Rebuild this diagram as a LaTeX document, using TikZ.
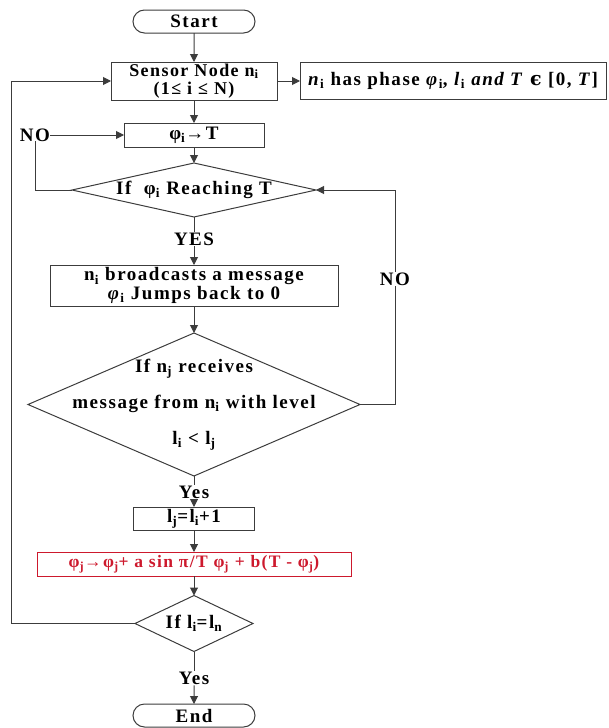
\documentclass[tikz,border=0pt]{standalone}
\usepackage{fontspec}
\setmainfont{Liberation Serif}[LetterSpace=8]
\newfontfamily\symfont{DejaVu Serif}[LetterSpace=8]
\usepackage{tikz}
\usetikzlibrary{arrows.meta,shapes.geometric,shapes.misc}
\definecolor{eqred}{RGB}{205,25,45}
\definecolor{edge}{RGB}{60,60,60}
\tikzset{
  every node/.style = {outer sep=0, inner sep=0, font=\bfseries\fontsize{19}{17}\selectfont},
  arrow/.style = {-{Triangle[length=8pt, width=8pt]}, line width=1pt, draw=edge},
  line/.style = {line width=1pt, draw=edge},
  block/.style = {rectangle, draw=edge, line width=1pt, align=center},
  decision/.style = {diamond, draw=edge, line width=1pt, inner sep=-6pt},
  term/.style = {rounded rectangle, draw=edge, line width=1pt, minimum width=122pt, minimum height=23pt},
  answer/.style = {fill=white, inner sep=1pt}
}

\begin{document}
\begin{tikzpicture}[x=1pt, y=-1pt]
    \useasboundingbox (0,0) rectangle (608,728);
    \node[term] (start) at (194,21.5) {Start};
    \node[block, minimum width=166pt, minimum height=38pt, font=\bfseries\fontsize{18}{18.5}\selectfont] (sensor) at (194,81) {Sensor Node n\textsubscript{i}\\(1≤ i ≤ N)};
    \node[block, minimum width=306pt, minimum height=37pt] (info) at (453,81) {\textit{n}\textsubscript{i} has phase \textit{φ}\textsubscript{i}, \textit{l}\textsubscript{i} \textit{and T} {\symfont ϵ} [0, \textit{T}]};
    \node[block, minimum width=140pt, minimum height=24pt] (phi) at (194,135) {φ\textsubscript{i}→T};
    \node (no1) at (35,135) {NO};
    \node[decision, shape aspect=4.5, minimum width=244pt, minimum height=54pt] (reach) at (194,190) {If\ \ φ\textsubscript{i} Reaching T};
    \node[answer] (yes1) at (194,239) {YES};
    \node[block, minimum width=288pt, minimum height=41pt, font=\bfseries\fontsize{19}{18.5}\selectfont] (bcast) at (194,285.5) {n\textsubscript{i} broadcasts a message\\\textit{φ}\textsubscript{i} Jumps back to 0};
    \node[decision, minimum width=332pt, minimum height=143pt] (recv) at (194,404.5) {};
    \node[align=center, font=\bfseries\fontsize{19}{36}\selectfont] (recvtext) at (recv) {If n\textsubscript{j} receives\\message from n\textsubscript{i} with level\\l\textsubscript{i} < l\textsubscript{j}};
    \node[answer] (no2) at (395,279) {NO};
    \node[answer] (yes2) at (194,492) {Yes};
    \node[block, minimum width=121pt, minimum height=23pt] (level) at (194,518.5) {l\textsubscript{j}=l\textsubscript{i}+1};
    \node[block, draw=eqred, text=eqred, minimum width=314pt, minimum height=24pt, font=\bfseries\fontsize{17.5}{17}\selectfont] (update) at (194,564) {φ\textsubscript{j}→φ\textsubscript{j}+ a sin π/T φ\textsubscript{j} + b(T - φ\textsubscript{j})};
    \node[decision, shape aspect=2, minimum width=118pt, minimum height=56pt] (last) at (194,623.5) {If l\textsubscript{i}=l\textsubscript{n}};
    \node[answer] (yes3) at (194,678) {Yes};
    \node[term] (end) at (194,715.5) {End};
    \coordinate (back) at (11,81);
    \draw[arrow] (start) -- (sensor);
    \draw[arrow] (sensor) -- (info);
    \draw[arrow] (sensor) -- (phi);
    \draw[arrow] (phi) -- (reach);
    \draw[line] (reach) -- (yes1);
    \draw[arrow] (yes1) -- (bcast);
    \draw[line] (reach.west) -| (no1);
    \draw[arrow] (no1) -- (phi);
    \draw[arrow] (bcast) -- (recv);
    \draw[line] (recv.east) -| (no2);
    \draw[arrow] (no2) |- (reach.east);
    \draw[line] (recv) -- (yes2);
    \draw[arrow] (yes2) -- (level);
    \draw[arrow] (level) -- (update);
    \draw[arrow] (update) -- (last);
    \draw[line] (last) -- (yes3);
    \draw[arrow] (yes3) -- (end);
    \draw[arrow] (last.west) -| (back) -- (sensor);
\end{tikzpicture}
\end{document}
